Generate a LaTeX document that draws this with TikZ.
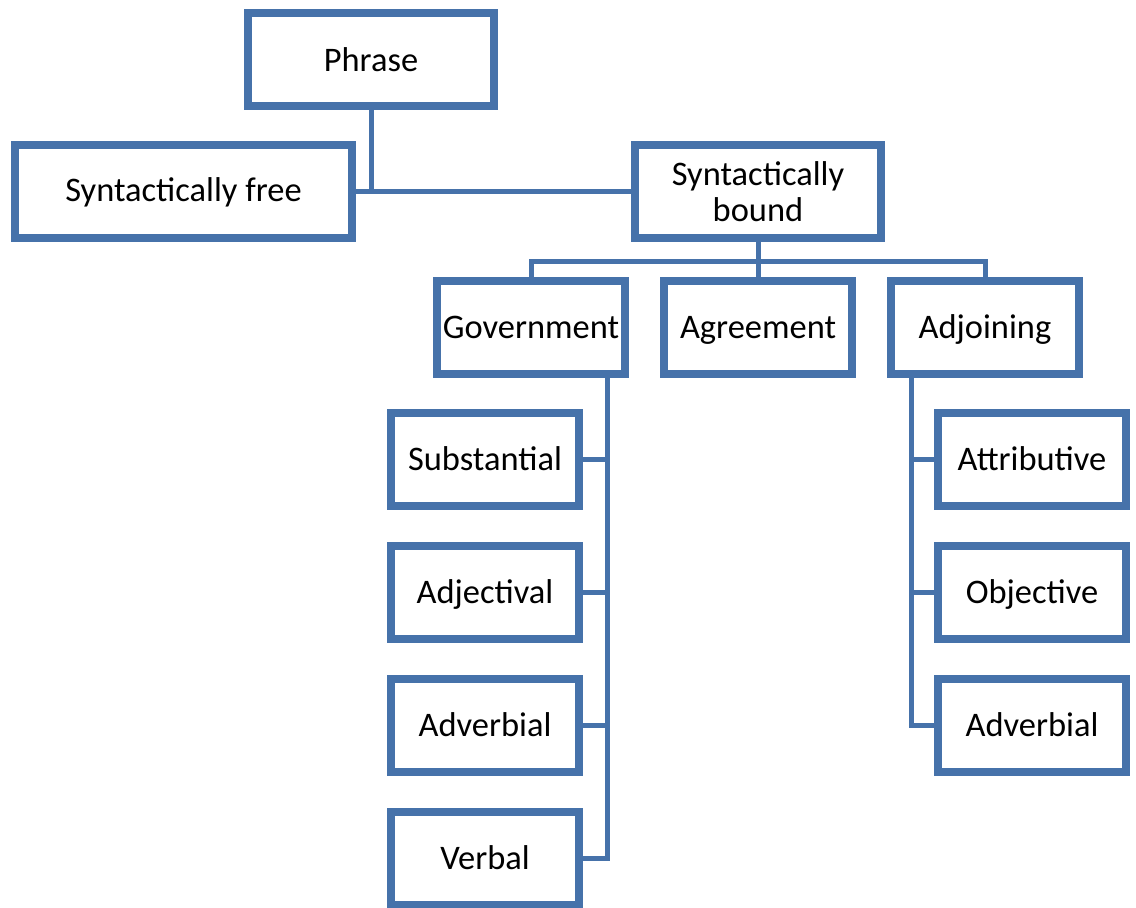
\documentclass[tikz,border=0pt]{standalone}
\usepackage{fontspec}
\setmainfont{Carlito}
\usepackage{tikz}
\usetikzlibrary{positioning, calc, shadows}

\definecolor{boxblue}{RGB}{70,114,170}

\begin{document}
\begin{tikzpicture}[
    box/.style={
        draw=boxblue,
        fill=white,
        line width=0.16cm,
        minimum height=1.86cm,
        align=center,
        font=\fontsize{19.6}{20.5}\selectfont,
        drop shadow={shadow xshift=0.05cm, shadow yshift=-0.05cm, opacity=0.2},
    },
    sub/.style={
        box,
        minimum width=3.76cm,
        inner sep=1pt,
        text height=12.6pt,
        text depth=0pt,
    },
    link/.style={
        draw=boxblue,
        line width=0.1cm,
    },
]

\useasboundingbox (0,0) rectangle (22.72,-18.16);

% --- Top level ---
\node[box, minimum width=4.92cm] (phrase) at (7.42,-1.2) {Phrase};
\node[box, minimum width=6.74cm] (free) at (3.67,-3.84) {Syntactically free};
\node[box, minimum width=4.92cm] (bound) at (15.16,-3.84) {Syntactically\\bound};

% --- Kinds of bound phrases ---
\node[sub] (agr) at (15.16,-6.55) {Agreement};
\node[sub, left=0.62cm of agr] (gov) {Government};
\node[sub, right=0.62cm of agr] (adj) {Adjoining};

% --- Government column ---
\node[sub] (subst) at (9.70,-9.18) {Substantial};
\node[sub, below=0.64cm of subst] (adjl) {Adjectival};
\node[sub, below=0.64cm of adjl] (advg) {Adverbial};
\node[sub, below=0.64cm of advg] (verb) {Verbal};

% --- Adjoining column ---
\node[sub] (attr) at (20.64,-9.18) {Attributive};
\node[sub, below=0.64cm of attr] (obj) {Objective};
\node[sub, below=0.64cm of obj] (adva) {Adverbial};

% --- Connectors ---
\draw[link] (free.east) -- (free.east -| bound.west);
\draw[link] (phrase.south) -- (phrase.south |- free.east);

\draw[link] (bound.south) -- ++(0,-0.38) coordinate (split);
\draw[link] (gov.north) |- (split) -| (adj.north);
\draw[link] (split) -- (agr.north);

\coordinate (govspine) at ([xshift=-0.43cm]gov.south east);
\draw[link] (govspine) |- (verb.east);
\foreach \n in {subst, adjl, advg} {
    \draw[link] (\n.east) -- (\n.east -| govspine);
}

\coordinate (adjspine) at ([xshift=0.48cm]adj.south west);
\draw[link] (adjspine) |- (adva.west);
\foreach \n in {attr, obj} {
    \draw[link] (\n.west) -- (\n.west -| adjspine);
}

\end{tikzpicture}
\end{document}
